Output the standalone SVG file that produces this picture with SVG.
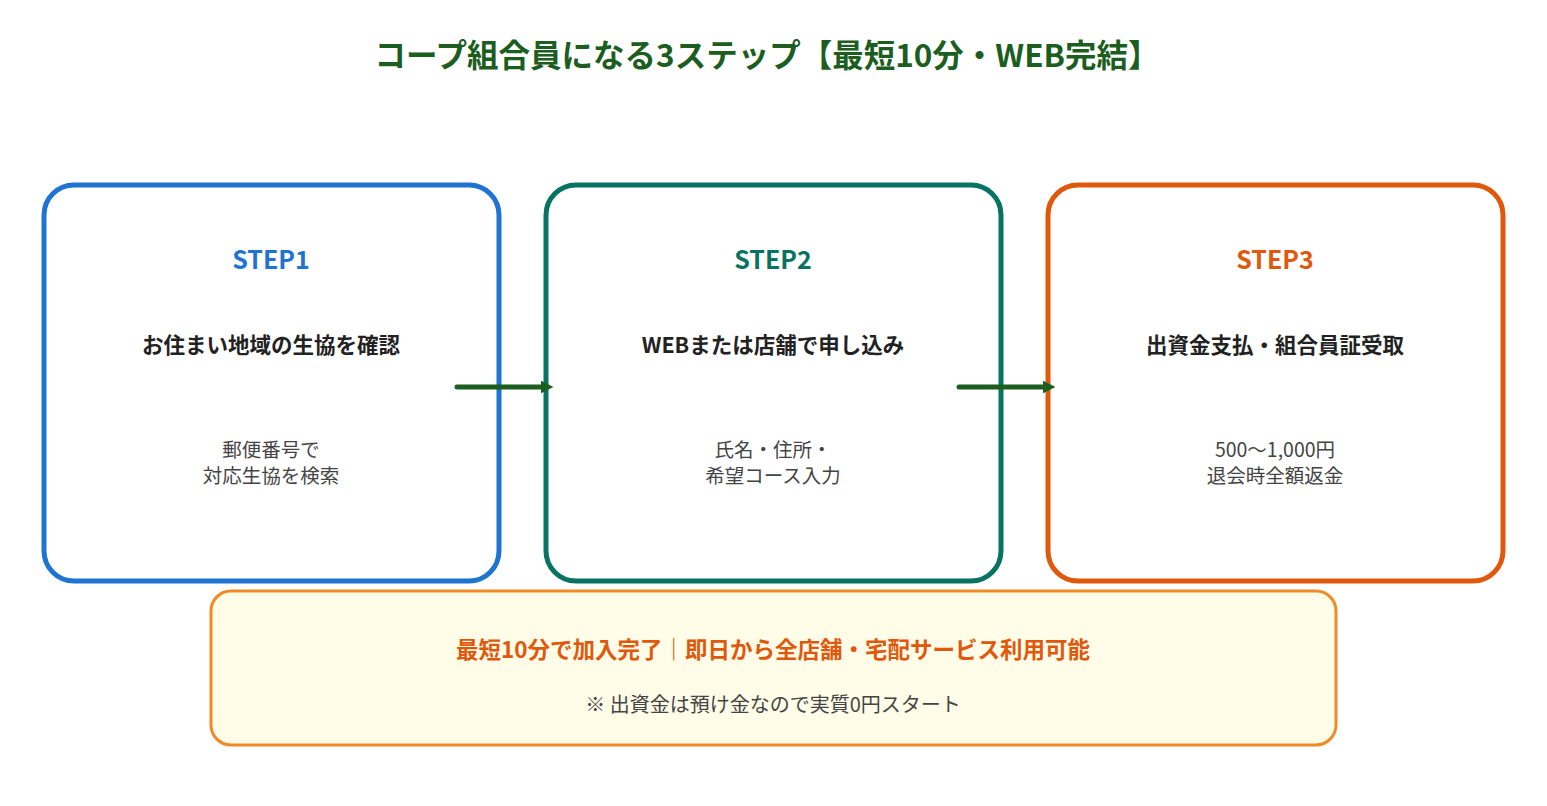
<svg xmlns="http://www.w3.org/2000/svg" width="1547" height="806" viewBox="0 0 1547 806">
<defs>
<marker id="ah" viewBox="0 0 10 10" refX="5" refY="5" markerWidth="2.6" markerHeight="2.6" orient="auto"><path d="M0,0 L10,5 L0,10 z" fill="#1b5e20"/></marker>
</defs>
<style>
text{font-family:"Noto Sans CJK JP","Noto Sans",sans-serif;text-anchor:middle}
.box{fill:#fff;stroke-width:5}
.step{font-size:25px;font-weight:bold}
.h{font-size:21.5px;font-weight:bold;fill:#222}
.d{font-size:19.5px;fill:#444}
.c{stroke:#1b5e20;stroke-width:5;fill:none;stroke-linecap:round;marker-end:url(#ah)}
</style>
<rect width="1547" height="806" fill="#fff"/>
<text x="767" y="67" font-size="31.5" font-weight="bold" fill="#1b5e20">コープ組合員になる3ステップ【最短10分・WEB完結】</text>
<g id="step1"><rect class="box" x="44" y="185" width="455" height="396" rx="30" stroke="#1e74d0"/>
<text class="step" x="271" y="269" fill="#1e74d0">STEP1</text>
<text class="h" x="271" y="353">お住まい地域の生協を確認</text>
<text class="d" x="271" y="457">郵便番号で</text><text class="d" x="271" y="483">対応生協を検索</text></g>
<g id="step2"><rect class="box" x="546" y="185" width="455" height="396" rx="30" stroke="#087362"/>
<text class="step" x="773" y="269" fill="#087362">STEP2</text>
<text class="h" x="773" y="353">WEBまたは店舗で申し込み</text>
<text class="d" x="773" y="457">氏名・住所・</text><text class="d" x="773" y="483">希望コース入力</text></g>
<g id="step3"><rect class="box" x="1048" y="185" width="455" height="396" rx="30" stroke="#e0580b"/>
<text class="step" x="1275" y="269" fill="#e0580b">STEP3</text>
<text class="h" x="1275" y="353">出資金支払・組合員証受取</text>
<text class="d" x="1275" y="457">500〜1,000円</text><text class="d" x="1275" y="483">退会時全額返金</text></g>
<g id="summary"><rect x="211" y="591" width="1125" height="154" rx="20" fill="#fffce8" stroke="#f08a24" stroke-width="3"/>
<text x="773" y="658" font-size="22.5" font-weight="bold" fill="#e0580b">最短10分で加入完了｜即日から全店舗・宅配サービス利用可能</text>
<text x="773" y="712" font-size="20" fill="#444">※ 出資金は預け金なので実質0円スタート</text></g>
<g id="connectors">
<line class="c" x1="457" y1="387" x2="547" y2="387"/>
<line class="c" x1="959" y1="387" x2="1049" y2="387"/>
</g>
</svg>
